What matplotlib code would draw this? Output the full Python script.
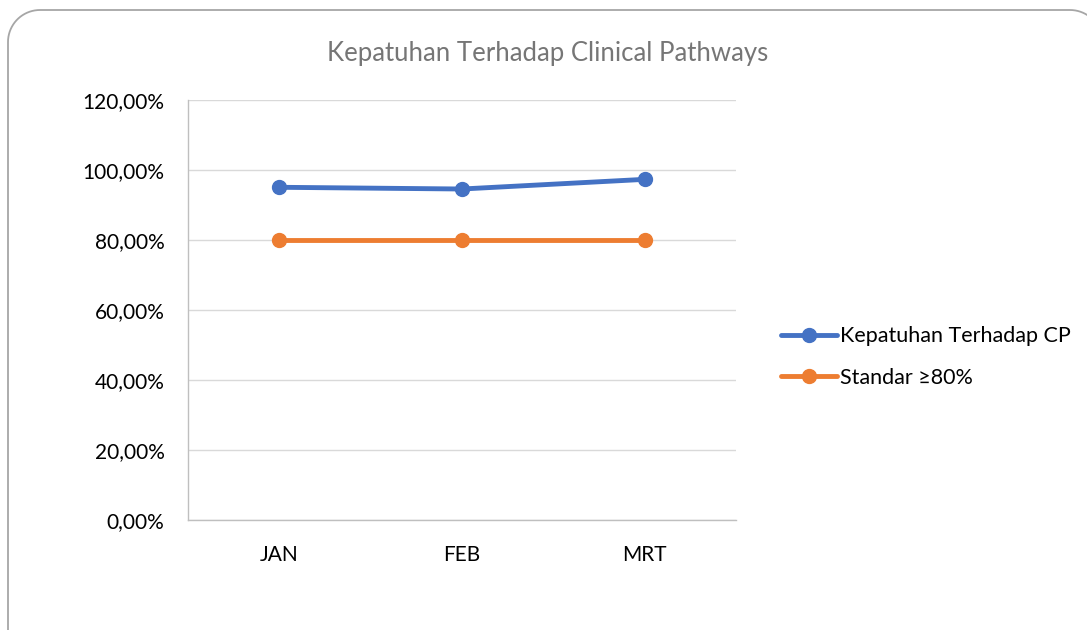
import numpy as np
import matplotlib.pyplot as plt
from matplotlib.patches import PathPatch
from matplotlib.path import Path
from matplotlib.ticker import FuncFormatter
from matplotlib.transforms import IdentityTransform

# data
months = ["JAN", "FEB", "MRT"]
kepatuhan = [95.06, 94.57, 97.33]
standar = [80, 80, 80]
y_ticks = [0, 20, 40, 60, 80, 100, 120]

plt.rcParams["font.family"] = ["Lato", "DejaVu Sans"]

W, H = 1087, 630
fig = plt.figure(figsize=(W / 100, H / 100), dpi=100)


def rounded_frame(x0, y0, x1, y1, r):
    # rounded rectangle outline in pixel coords (y up)
    pts = []
    for cx, cy, a0 in [(x1 - r, y1 - r, 0), (x0 + r, y1 - r, 90),
                       (x0 + r, y0 + r, 180), (x1 - r, y0 + r, 270)]:
        t = np.radians(np.linspace(a0, a0 + 90, 20))
        pts += list(zip(cx + r * np.cos(t), cy + r * np.sin(t)))
    pts.append(pts[0])
    return Path(pts)


frame = PathPatch(rounded_frame(8, -40, 1102, 620, 32), transform=IdentityTransform(),
                  fill=False, edgecolor="#a6a6a6", linewidth=1.3)
fig.patches.append(frame)

ax = fig.add_axes([188 / W, 1 - 520 / H, 548 / W, 420 / H])

x = range(len(months))
ax.plot(x, kepatuhan, color="#4472C4", lw=3.5, marker="o", ms=10,
        label="Kepatuhan Terhadap CP", solid_capstyle="round")
ax.plot(x, standar, color="#ED7D31", lw=3.5, marker="o", ms=10,
        label="Standar \u226580%", solid_capstyle="round")

ax.set_xlim(-0.5, 2.5)
ax.set_ylim(0, 120)
ax.set_yticks(y_ticks)
ax.yaxis.set_major_formatter(FuncFormatter(lambda v, p: f"{v:.2f}%".replace(".", ",")))
ax.set_xticks(list(x))
ax.set_xticklabels(months)
ax.tick_params(axis="both", length=0, labelsize=15, colors="#000000")
ax.tick_params(axis="y", pad=17)
ax.tick_params(axis="x", pad=18)

ax.grid(axis="y", color="#d9d9d9", lw=1)
ax.set_axisbelow(True)
for s in ["top", "right"]:
    ax.spines[s].set_visible(False)
for s in ["left", "bottom"]:
    ax.spines[s].set_color("#bfbfbf")
    ax.spines[s].set_linewidth(1)

fig.text(548 / W, 1 - 53 / H, "Kepatuhan Terhadap Clinical Pathways",
         ha="center", va="center", fontsize=18.5, color="#767676")

fig.legend(loc="center left", bbox_to_anchor=(762 / W, 1 - 357 / H),
           frameon=False, fontsize=15.5, handlelength=2.6,
           handletextpad=0.1, labelspacing=1.0)

fig.savefig("out.png", dpi=100, facecolor="white")
